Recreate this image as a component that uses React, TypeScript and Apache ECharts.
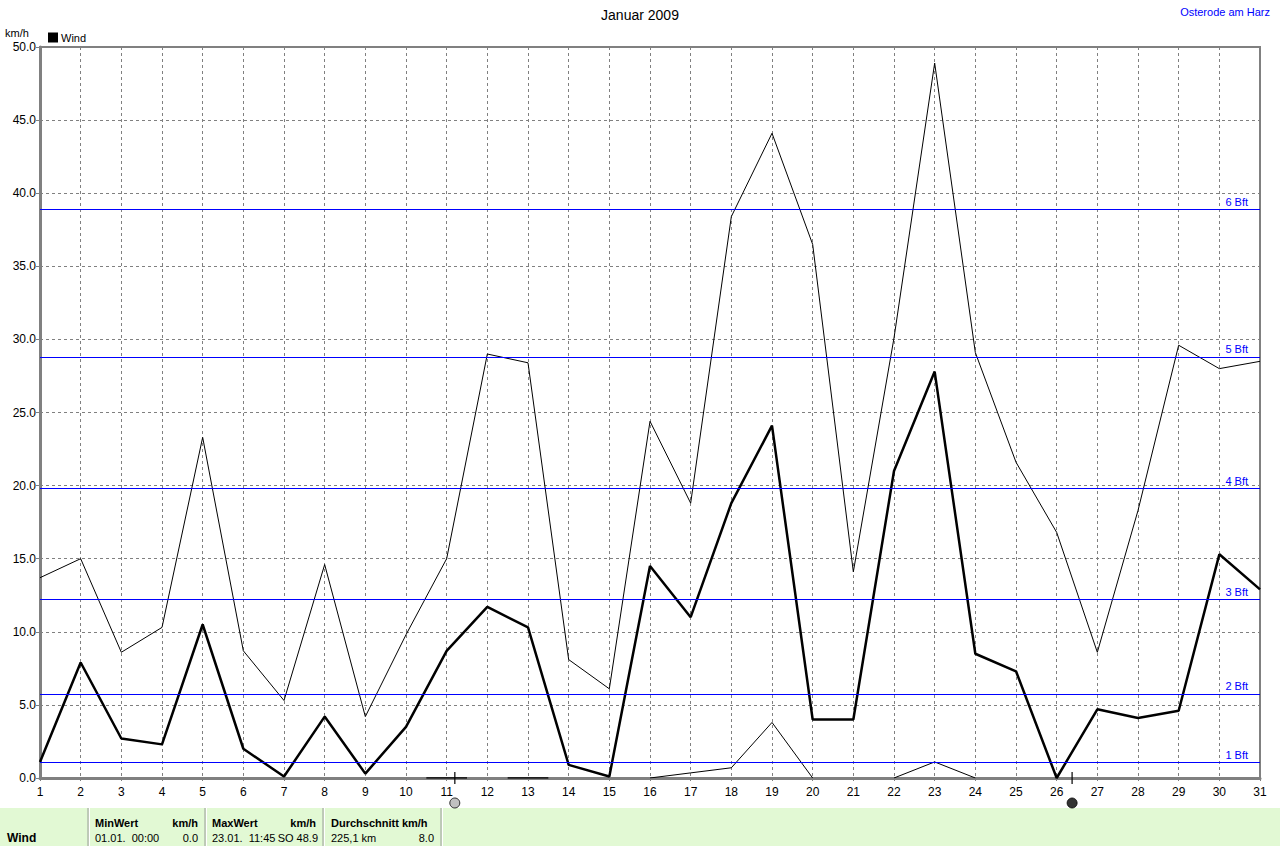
import React, { useEffect, useRef } from "react";
import * as echarts from "echarts";

const days = Array.from({ length: 31 }, (_, i) => i + 1);
const avgWind = [1.1, 7.9, 2.7, 2.3, 10.5, 2.0, 0.1, 4.2, 0.3, 3.5, 8.7, 11.7, 10.3, 0.9, 0.1, 14.5, 11.0, 18.8, 24.1, 4.0, 4.0, 21.0, 27.8, 8.5, 7.3, 0.0, 4.7, 4.1, 4.6, 15.3, 12.9];
const maxWind = [13.7, 15.0, 8.6, 10.3, 23.3, 8.7, 5.3, 14.6, 4.2, 9.8, 15.0, 29.0, 28.4, 8.1, 6.1, 24.4, 18.8, 38.4, 44.1, 36.5, 14.1, 30.1, 48.9, 29.1, 21.6, 16.8, 8.6, 18.3, 29.6, 28.0, 28.5];
// minimum wind: only the part that rises above the axis line is visible
const minWind: (number | string)[] = ["-", "-", "-", "-", "-", "-", "-", "-", "-", "-", "-", "-", "-", "-", "-", 0, 0.35, 0.7, 3.8, 0, "-", 0, 1.1, 0, "-", "-", "-", "-", "-", "-", "-"];
const zeroSegments: [number, number | string][] = [[10.5, 0], [11.5, 0], [12, "-"], [12.5, 0], [13.5, 0]];
const bftValues = [1.08, 5.76, 12.24, 19.8, 28.8, 38.88];
const bftLabels = ["1 Bft", "2 Bft", "3 Bft", "4 Bft", "5 Bft", "6 Bft"];
const fullMoon = 11.2;
const newMoon = 26.38;
const yTicks = { min: 0, max: 50, interval: 5 };

const FONT = "'Liberation Sans', Arial, sans-serif";

export default function App() {
  const ref = useRef<HTMLDivElement>(null);
  useEffect(() => {
    if (!ref.current) return;
    const chart = echarts.init(ref.current, null, { renderer: "svg" });
    const gray = "#808080";
    const sepXs = [88, 205, 323, 441];
    const graphic: any[] = [
      { type: "rect", shape: { x: 0, y: 808, width: 1280, height: 38 }, style: { fill: "#E2F9D4" }, z: 0 },
      ...sepXs.map((x) => ({ type: "line", shape: { x1: x, y1: 808, x2: x, y2: 846 }, style: { stroke: "#9a9a9a", lineWidth: 1 } })),
      ...sepXs.map((x) => ({ type: "line", shape: { x1: x + 1.5, y1: 808, x2: x + 1.5, y2: 846 }, style: { stroke: "#ffffff", lineWidth: 1 } })),
      { type: "text", x: 7, y: 838, style: { text: "Wind", font: `bold 12px ${FONT}`, fill: "#000", textVerticalAlign: "middle" } },
      { type: "text", x: 95, y: 823, style: { text: "MinWert", font: `bold 11px ${FONT}`, fill: "#000", textVerticalAlign: "middle" } },
      { type: "text", x: 198, y: 823, style: { text: "km/h", font: `bold 11px ${FONT}`, fill: "#000", textAlign: "right", textVerticalAlign: "middle" } },
      { type: "text", x: 212, y: 823, style: { text: "MaxWert", font: `bold 11px ${FONT}`, fill: "#000", textVerticalAlign: "middle" } },
      { type: "text", x: 316, y: 823, style: { text: "km/h", font: `bold 11px ${FONT}`, fill: "#000", textAlign: "right", textVerticalAlign: "middle" } },
      { type: "text", x: 331, y: 823, style: { text: "Durchschnitt km/h", font: `bold 11px ${FONT}`, fill: "#000", textVerticalAlign: "middle" } },
      { type: "text", x: 95, y: 838, style: { text: "01.01.  00:00", font: `11px ${FONT}`, fill: "#000", textVerticalAlign: "middle" } },
      { type: "text", x: 198, y: 838, style: { text: "0.0", font: `11px ${FONT}`, fill: "#000", textAlign: "right", textVerticalAlign: "middle" } },
      { type: "text", x: 212, y: 838, style: { text: "23.01.  11:45", font: `11px ${FONT}`, fill: "#000", textVerticalAlign: "middle" } },
      { type: "text", x: 318, y: 838, style: { text: "SO 48.9", font: `11px ${FONT}`, fill: "#000", textAlign: "right", textVerticalAlign: "middle" } },
      { type: "text", x: 331, y: 838, style: { text: "225,1 km", font: `11px ${FONT}`, fill: "#000", textVerticalAlign: "middle" } },
      { type: "text", x: 434, y: 838, style: { text: "8.0", font: `11px ${FONT}`, fill: "#000", textAlign: "right", textVerticalAlign: "middle" } },
      { type: "text", x: 1270, y: 12, style: { text: "Osterode am Harz", font: `11px ${FONT}`, fill: "#0000ff", textAlign: "right", textVerticalAlign: "middle" } },
      { type: "text", x: 5, y: 33, style: { text: "km/h", font: `11px ${FONT}`, fill: "#000", textVerticalAlign: "middle" } },
    ];
    chart.setOption({
      animation: false,
      backgroundColor: "#ffffff",
      textStyle: { fontFamily: FONT },
      title: {
        text: "Januar 2009",
        left: "center",
        top: 3,
        textStyle: { fontSize: 14, fontWeight: "normal", color: "#000", fontFamily: FONT },
      },
      legend: {
        data: [{ name: "Wind", icon: "rect" }],
        left: 48,
        top: 32,
        itemWidth: 10,
        itemHeight: 10,
        itemGap: 4,
        textStyle: { fontSize: 11, color: "#000", fontFamily: FONT, padding: [0, 0, 0, -2] },
        padding: 0,
      },
      grid: {
        left: 40,
        top: 47,
        width: 1220,
        height: 731,
        show: true,
        borderColor: gray,
        borderWidth: 2,
        backgroundColor: "transparent",
      },
      xAxis: {
        type: "value",
        min: 1,
        max: 31,
        interval: 1,
        axisLine: { show: true, lineStyle: { color: gray, width: 3 } },
        axisTick: { show: true, length: 6, lineStyle: { color: gray, type: [3, 3] } },
        axisLabel: { color: "#000", fontSize: 12, margin: 8, fontFamily: FONT },
        splitLine: { show: true, lineStyle: { color: gray, type: [3, 3], width: 1 } },
      },
      yAxis: {
        type: "value",
        ...yTicks,
        axisLine: { show: true, lineStyle: { color: gray, width: 3 } },
        axisTick: { show: true, length: 4, lineStyle: { color: gray } },
        axisLabel: { color: "#000", fontSize: 12, margin: 4, fontFamily: FONT, formatter: (v: number) => v.toFixed(1) },
        splitLine: { show: true, lineStyle: { color: gray, type: [3, 3], width: 1 } },
      },
      series: [
        {
          name: "Max",
          type: "line",
          data: days.map((d, i) => [d, maxWind[i]]),
          symbol: "none",
          lineStyle: { color: "#000", width: 1 },
          z: 3,
          markLine: {
            silent: true,
            symbol: "none",
            lineStyle: { color: "#0000ff", width: 1, type: "solid" },
            label: {
              show: true,
              position: "insideEndTop",
              formatter: "{b}",
              color: "#0000ff",
              fontSize: 11,
              fontFamily: FONT,
              distance: [12, 2],
            },
            data: bftValues.map((v, i) => ({ yAxis: v, name: bftLabels[i] })),
          },
        },
        {
          name: "Wind",
          type: "line",
          data: days.map((d, i) => [d, avgWind[i]]),
          symbol: "none",
          itemStyle: { color: "#000" },
          lineStyle: { color: "#000", width: 2.5 },
          z: 4,
        },
        {
          name: "Min",
          type: "line",
          data: days.map((d, i) => [d, minWind[i]]),
          symbol: "none",
          lineStyle: { color: "#000", width: 1 },
          z: 3,
        },
        {
          name: "Zero",
          type: "line",
          data: zeroSegments,
          symbol: "none",
          lineStyle: { color: "#000", width: 1.5 },
          z: 3,
        },
        {
          name: "MoonTick",
          type: "scatter",
          data: [[fullMoon, 0], [newMoon, 0]],
          symbol: "rect",
          symbolSize: [1.5, 12],
          itemStyle: { color: "#000" },
          clip: false,
          silent: true,
          z: 5,
        },
        {
          name: "FullMoon",
          type: "scatter",
          data: [[fullMoon, 0]],
          symbol: "circle",
          symbolSize: 10,
          symbolOffset: [0, 25],
          itemStyle: { color: "#b0b0b0", borderColor: "#000", borderWidth: 1 },
          clip: false,
          silent: true,
          z: 5,
        },
        {
          name: "NewMoon",
          type: "scatter",
          data: [[newMoon, 0]],
          symbol: "circle",
          symbolSize: 10,
          symbolOffset: [0, 25],
          itemStyle: { color: "#000", borderColor: "#000", borderWidth: 1 },
          clip: false,
          silent: true,
          z: 5,
        },
      ],
      graphic,
    });
    return () => chart.dispose();
  }, []);
  return <div ref={ref} style={{ position: "absolute", left: 0, top: 0, width: 1280, height: 846 }} />;
}
